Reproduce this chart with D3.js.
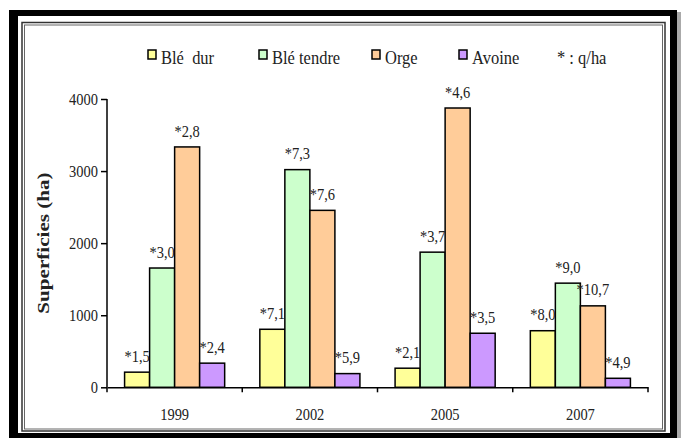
<!DOCTYPE html>
<html>
<head>
<meta charset="utf-8">
<script src="https://cdn.jsdelivr.net/npm/d3@7"></script>
<style>
body { margin: 0; background: #fff; }
svg text { font-family: "Liberation Serif", "Times New Roman", serif !important; fill: #222; }
.tall { transform-box: fill-box; transform-origin: center; transform: scaleY(1.12); }
.long { transform-box: fill-box; transform-origin: center; transform: scaleX(1.28); }
</style>
</head>
<body>
<svg width="681" height="438"></svg>
<script>
// data
var years = ["1999", "2002", "2005", "2007"];
var series = ["Blé  dur", "Blé tendre", "Orge", "Avoine"];
var colors = ["#ffff99", "#ccffcc", "#ffcc99", "#cc99ff"];
var bleDur = [210, 805, 265, 785];
var bleTendre = [1655, 3020, 1875, 1445];
var orge = [3335, 2455, 3875, 1130];
var avoine = [335, 190, 750, 125];
var bleDurLab = ["*1,5", "*7,1", "*2,1", "*8,0"];
var bleTendreLab = ["*3,0", "*7,3", "*3,7", "*9,0"];
var orgeLab = ["*2,8", "*7,6", "*4,6", "*10,7"];
var avoineLab = ["*2,4", "*5,9", "*3,5", "*4,9"];
var yTicks = [0, 1000, 2000, 3000, 4000];
var yTitle = "Superficies (ha)";
var unitNote = "* : q/ha";

var values = [bleDur, bleTendre, orge, avoine];
var labels = [bleDurLab, bleTendreLab, orgeLab, avoineLab];
var FONT = "'Liberation Serif', 'Times New Roman', serif";

var svg = d3.select("svg");

// frame: black border with shadow, then thin double line
svg.append("rect").attr("x", 676).attr("y", 12).attr("width", 5).attr("height", 426).attr("fill", "#aaa");
svg.append("rect").attr("x", 9).attr("y", 10).attr("width", 668).attr("height", 428).attr("fill", "#000");
svg.append("rect").attr("x", 18).attr("y", 16).attr("width", 652).attr("height", 417).attr("fill", "#fff");
svg.append("rect").attr("x", 22).attr("y", 22.5).attr("width", 643).attr("height", 408.5)
    .attr("fill", "none").attr("stroke", "#333").attr("stroke-width", 1.5);
svg.append("rect").attr("x", 24.5).attr("y", 25).attr("width", 638).attr("height", 404)
    .attr("fill", "none").attr("stroke", "#666").attr("stroke-width", 1);

// scales
var x0 = d3.scaleBand().domain(years).range([107, 648]).padding(0);
var groupW = x0.bandwidth() * 0.74;
var x1 = d3.scaleBand().domain(d3.range(series.length)).range([0, groupW]).padding(0);
var y = d3.scaleLinear().domain([0, 4000]).range([387.3, 99]);

// bars
var groups = svg.append("g").selectAll("g")
    .data(years).enter().append("g")
    .attr("transform", function(d) {
        return "translate(" + (x0(d) + (x0.bandwidth() - groupW) / 2) + ",0)";
    });

function cells(d, i) {
    return values.map(function(v, s) { return { s: s, v: v[i], lab: labels[s][i] }; });
}

groups.selectAll("rect")
    .data(cells).enter().append("rect")
    .attr("x", function(d) { return x1(d.s); })
    .attr("y", function(d) { return y(d.v); })
    .attr("width", x1.bandwidth())
    .attr("height", function(d) { return y(0) - y(d.v); })
    .attr("fill", function(d) { return colors[d.s]; })
    .attr("stroke", "#000")
    .attr("stroke-width", 1.5);

groups.selectAll("text")
    .data(cells).enter().append("text")
    .attr("class", "tall")
    .attr("x", function(d) { return x1(d.s) + x1.bandwidth() / 2; })
    .attr("y", function(d) { return y(d.v) - 11; })
    .attr("text-anchor", "middle")
    .style("font-family", FONT)
    .style("font-size", "14.5px")
    .text(function(d) { return d.lab; });

// y axis
var yAxis = svg.append("g")
    .attr("transform", "translate(107,0)")
    .call(d3.axisLeft(y).tickValues(yTicks).tickSize(6).tickPadding(3).tickFormat(d3.format("d")));
yAxis.attr("font-family", FONT);
yAxis.select(".domain").attr("stroke", "#000").attr("stroke-width", 1.5).attr("d", "M0,387.3V99");
yAxis.selectAll(".tick line").attr("stroke", "#000").attr("stroke-width", 1.5);
yAxis.selectAll("text").attr("class", "tall").style("font-family", FONT).style("font-size", "14.5px").attr("fill", "#333");

// x axis: labels from the axis, ticks at the category boundaries
var xAxis = svg.append("g")
    .attr("transform", "translate(0," + y(0) + ")")
    .call(d3.axisBottom(x0).tickSize(0).tickPadding(22));
xAxis.attr("font-family", FONT);
xAxis.select(".domain").attr("stroke", "#000").attr("stroke-width", 1.5);
xAxis.selectAll("text").attr("class", "tall").style("font-family", FONT).style("font-size", "14.5px").attr("fill", "#333");
var bounds = years.map(function(d) { return x0(d); }).concat([x0.range()[1]]);
xAxis.selectAll("line.bound")
    .data(bounds).enter().append("line")
    .attr("class", "bound")
    .attr("x1", function(d) { return d; }).attr("x2", function(d) { return d; })
    .attr("y1", 0).attr("y2", 5)
    .attr("stroke", "#000").attr("stroke-width", 1.5);

// y title
svg.append("g")
    .attr("transform", "translate(43,243) rotate(-90)")
    .append("text")
    .attr("class", "long")
    .attr("text-anchor", "middle")
    .attr("dy", "0.35em")
    .style("font-family", FONT)
    .style("font-size", "16.5px")
    .style("font-weight", "bold")
    .text(yTitle);

// legend
var legX = [148, 259, 372, 459];
var leg = svg.append("g").selectAll("g")
    .data(series).enter().append("g")
    .attr("transform", function(d, i) { return "translate(" + legX[i] + ",50)"; });
leg.append("rect")
    .attr("width", 8).attr("height", 9)
    .attr("fill", function(d, i) { return colors[i]; })
    .attr("stroke", "#000").attr("stroke-width", 1.5);
leg.append("text")
    .attr("class", "tall")
    .attr("x", 13).attr("y", 13)
    .style("font-family", FONT)
    .style("font-size", "16.5px")
    .style("white-space", "pre")
    .text(function(d) { return d; });
svg.append("text")
    .attr("class", "tall")
    .attr("x", 557).attr("y", 63)
    .style("font-family", FONT)
    .style("font-size", "16.5px")
    .style("white-space", "pre")
    .text(unitNote);
</script>
</body>
</html>
